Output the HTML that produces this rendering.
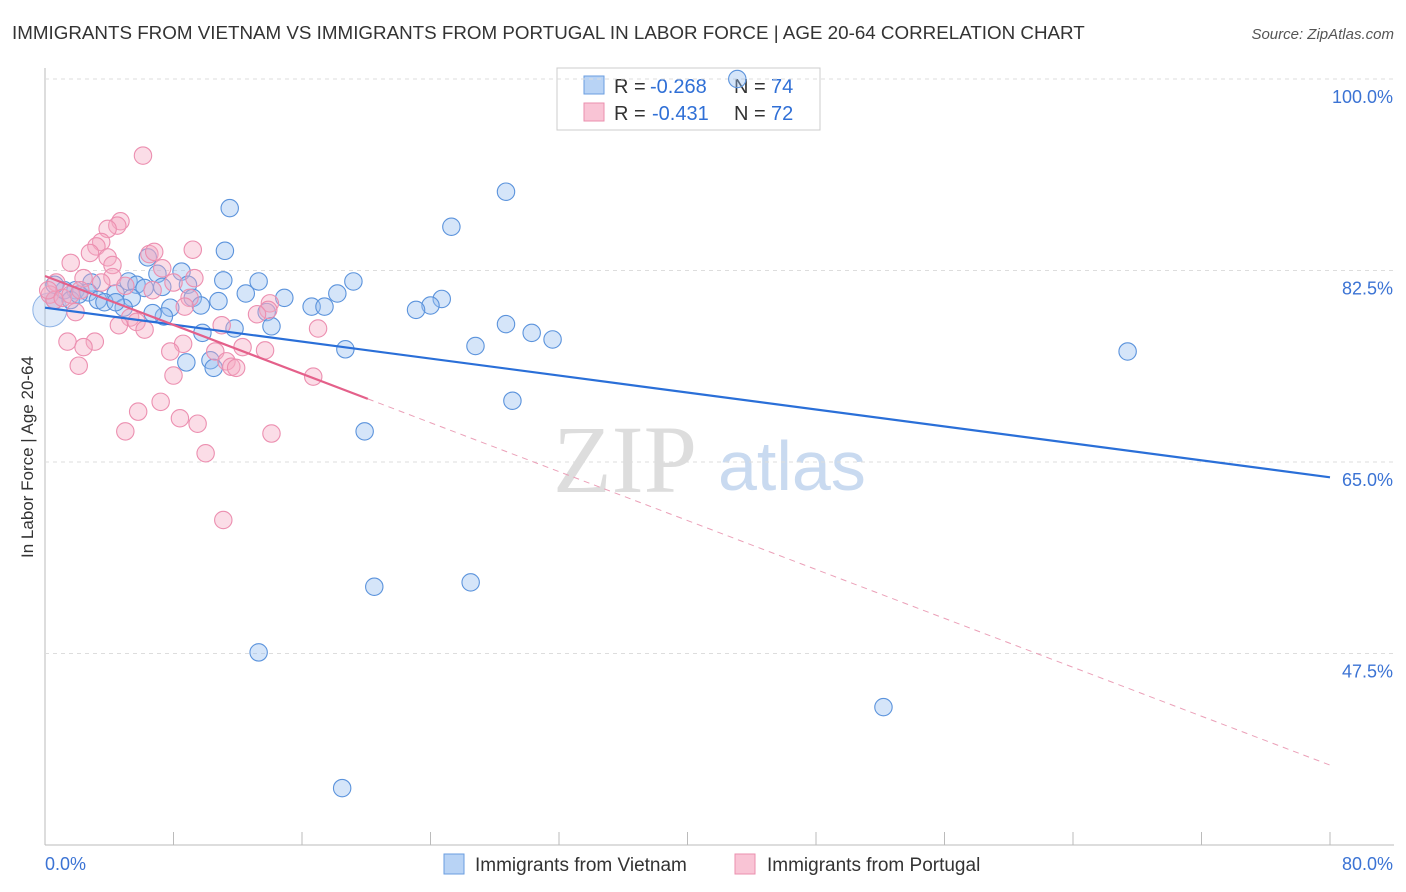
<!DOCTYPE html>
<html><head><meta charset="utf-8"><style>
body{margin:0;background:#fff;font-family:"Liberation Sans",sans-serif}
svg{display:block}
</style></head><body>
<svg id="c" width="1406" height="892" xmlns="http://www.w3.org/2000/svg">
<text x="12" y="39" font-size="18.8" fill="#333">IMMIGRANTS FROM VIETNAM VS IMMIGRANTS FROM PORTUGAL IN LABOR FORCE | AGE 20-64 CORRELATION CHART</text>
<text x="1394" y="39" font-size="15" fill="#555" text-anchor="end" font-style="italic">Source: ZipAtlas.com</text>
<text x="33" y="457" font-size="17" fill="#333" text-anchor="middle" transform="rotate(-90 33 457)">In Labor Force | Age 20-64</text>
<g><text x="553" y="492" font-size="96" fill="#ddd" font-family="Liberation Serif,serif">ZIP</text><text x="718" y="490" font-size="70" fill="#c9daf0">atlas</text></g>
<g>
<rect x="557" y="68" width="263" height="62" fill="#fff" stroke="#ccc"/>
<rect x="584" y="76" width="20" height="18" fill="#b8d3f5" stroke="#6a9ee0"/>
<rect x="584" y="103" width="20" height="18" fill="#f9c4d5" stroke="#eb8fae"/>
<text x="614" y="93" font-size="20" fill="#333">R =</text>
<text x="650" y="93" font-size="20" fill="#2f6fd6">-0.268</text>
<text x="734" y="93" font-size="20" fill="#333">N =</text>
<text x="771" y="93" font-size="20" fill="#2f6fd6">74</text>
<text x="614" y="120" font-size="20" fill="#333">R =</text>
<text x="652" y="120" font-size="20" fill="#2f6fd6">-0.431</text>
<text x="734" y="120" font-size="20" fill="#333">N =</text>
<text x="771" y="120" font-size="20" fill="#2f6fd6">72</text>
</g>
<g id="grid"></g><g id="pts"></g><g id="trend"></g>
<g>
<rect x="444" y="854" width="20" height="20" fill="#b8d3f5" stroke="#6a9ee0"/>
<text x="475" y="871" font-size="19" fill="#333">Immigrants from Vietnam</text>
<rect x="735" y="854" width="20" height="20" fill="#f9c4d5" stroke="#eb8fae"/>
<text x="767" y="871" font-size="19" fill="#333">Immigrants from Portugal</text>
</g>
</svg>
<script>
const xTicks=[0,80];
const yTicks=[100,82.5,65,47.5];
const blueX=[43.1,28.7,11.5,25.3,11.2,6.4,8.5,7.0,11.1,13.3,19.2,8.9,5.2,5.7,6.2,7.3,2.9,1.9,2.7,4.4,5.4,3.3,3.7,9.2,10.8,12.5,14.9,18.2,24.7,24.0,23.1,16.6,17.4,7.8,7.4,4.9,6.7,9.7,13.8,14.1,11.8,9.8,28.7,30.3,31.6,26.8,18.7,67.4,8.8,10.3,10.5,29.1,19.9,20.5,26.5,13.3,52.2,18.5,0.6,1.2,1.6,2.1,4.4,0.6];
const blueY=[100,89.7,88.2,86.5,84.3,83.7,82.4,82.2,81.6,81.5,81.5,81.2,81.5,81.2,80.9,81.0,81.4,80.7,80.5,80.4,80.0,79.8,79.6,80.0,79.7,80.4,80.0,80.4,79.9,79.3,78.9,79.2,79.2,79.1,78.3,79.1,78.6,79.3,78.7,77.4,77.2,76.8,77.6,76.8,76.2,75.6,75.3,75.1,74.1,74.3,73.6,70.6,67.8,53.6,54.0,47.6,42.6,35.2,79.8,80.7,79.8,80.3,79.6,81.2];
const pinkX=[6.1,4.7,4.5,3.9,3.5,3.2,2.8,3.9,4.2,1.6,6.5,6.8,9.2,7.3,4.2,2.4,3.5,5.0,0.7,9.3,8.0,6.7,9.0,14.0,13.9,13.2,8.7,1.9,5.3,5.7,4.6,6.2,11.0,17.0,1.4,3.1,2.4,8.6,7.8,10.6,12.3,13.7,11.3,11.6,11.9,2.1,8.0,16.7,7.2,5.8,8.4,9.5,5.0,14.1,10.0,11.1,0.3,0.6,0.2,1.1,1.6,2.2];
const pinkY=[93.0,87.0,86.6,86.3,85.1,84.7,84.1,83.7,83.0,83.2,84.0,84.2,84.4,82.7,81.9,81.8,81.4,81.1,81.4,81.8,81.4,80.7,80.0,79.5,78.9,78.5,79.2,78.7,78.2,77.8,77.5,77.1,77.5,77.2,76.0,76.0,75.5,75.8,75.1,75.1,75.5,75.2,74.2,73.7,73.6,73.8,72.9,72.8,70.5,69.6,69.0,68.5,67.8,67.6,65.8,59.7,80.3,79.8,80.7,80.0,80.3,80.7];
const blueTrend=[79.1,63.6];
const pinkTrend=[82.0,37.3];
const pinkSolidEnd=20.1;
const NS="http://www.w3.org/2000/svg";
const sx=v=>45+v/80*1285, sy=v=>79+(100-v)/17.5*191.5;
function mk(t,a,p){const e=document.createElementNS(NS,t);for(const k in a)e.setAttribute(k,a[k]);p.appendChild(e);return e;}
const g=document.getElementById('grid');
let ax=mk('line',{x1:45,y1:68,x2:45,y2:845,stroke:'#bbb'},g);


let bx=mk('line',{x1:45,y1:845,x2:1394,y2:845,stroke:'#bbb'},g);


for(let i=0;i<=10;i++){const l=mk('line',{x1:sx(i*8),x2:sx(i*8),y1:832,y2:845,stroke:'#bbb'},g);

}
yTicks.forEach(v=>{const l=mk('line',{x1:45,x2:1394,y1:sy(v),y2:sy(v),stroke:'#ddd','stroke-dasharray':'4 4'},g);


const t=mk('text',{x:1393,y:sy(v)+24,'font-size':18,fill:'#3b73d4','text-anchor':'end'},g);t.textContent=v.toFixed(1)+'%';

});
xTicks.forEach((v,i)=>{const t=mk('text',{x:i?1393:45,y:870,'font-size':18,fill:'#3b73d4','text-anchor':i?'end':'start'},g);t.textContent=v.toFixed(1)+'%';

});
const p=document.getElementById('pts');
const big=mk('circle',{cx:sx(0.3),cy:sy(78.9),r:17,fill:'rgba(150,190,240,0.3)',stroke:'#8fb4e6','stroke-width':1},p);


blueX.forEach((x,i)=>{const c=mk('circle',{cx:sx(x),cy:sy(blueY[i]),r:8.7,fill:'rgba(150,190,240,0.4)',stroke:'#5b93dc','stroke-width':1.1},p);

});
pinkX.forEach((x,i)=>{const c=mk('circle',{cx:sx(x),cy:sy(pinkY[i]),r:8.7,fill:'rgba(246,170,195,0.4)',stroke:'#ec8fb0','stroke-width':1.1},p);

});
const tr=document.getElementById('trend');
const pl=v=>pinkTrend[0]+(pinkTrend[1]-pinkTrend[0])*v/80;
let b=mk('line',{x1:sx(0),y1:sy(blueTrend[0]),x2:sx(80),y2:sy(blueTrend[1]),stroke:'#2a6fd8','stroke-width':2.2},tr);


let ps=mk('line',{x1:sx(0),y1:sy(pl(0)),x2:sx(pinkSolidEnd),y2:sy(pl(pinkSolidEnd)),stroke:'#e4608a','stroke-width':2.2},tr);


let pd=mk('line',{x1:sx(pinkSolidEnd),y1:sy(pl(pinkSolidEnd)),x2:sx(80),y2:sy(pl(80)),stroke:'#eba0b8','stroke-width':1,'stroke-dasharray':'6 5'},tr);


</script>
</body></html>
